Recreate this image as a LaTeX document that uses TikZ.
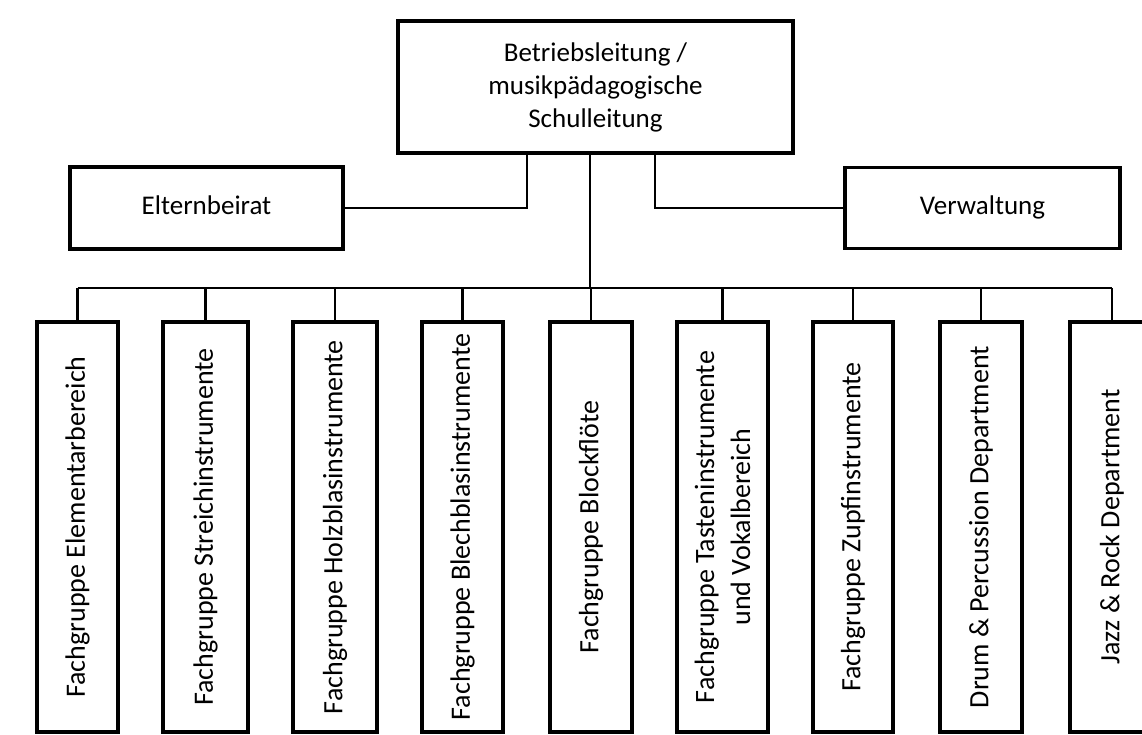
\documentclass[tikz,border=0pt]{standalone}
\usepackage{fontspec}
\setmainfont{Carlito}
\usetikzlibrary{positioning, calc}
\tikzset{
	orgbox/.style ={rectangle, draw=black, line width=3.6pt, align=center, inner sep=0pt},
	sidebox/.style={orgbox, text height=23pt, text depth=10pt},
	deptbox/.style={rectangle, draw=black, line width=3.6pt, rotate=90, minimum width=410pt, align=center, inner sep=0pt, font=\fontsize{28}{36}\selectfont},
	link/.style   ={draw=black, line width=2.2pt},
}

\begin{document}
\begin{tikzpicture}[x=1pt, y=-1pt, font=\fontsize{27}{33}\selectfont]
	\useasboundingbox (0,0) rectangle (1142,734);
	% top level
	\node[orgbox, minimum width=395pt, minimum height=132pt] (leitung) at (595.5,87) {Betriebsleitung /\\ musikpädagogische\\ Schulleitung};
	\node[sidebox, minimum width=273pt, minimum height=82pt] (eltern) at (206.5,208) {Elternbeirat};
	\node[sidebox, minimum width=275pt, minimum height=81pt] (verwaltung) at (982.5,208) {Verwaltung};
	\draw[link] ([xshift=-68.5pt]leitung.south) |- (eltern);
	\draw[link] ([xshift=59.5pt]leitung.south) |- (verwaltung);
	% departments
	\foreach \x/\w/\name/\txt in {77.5/81/d1/{Fachgruppe Elementarbereich}, 205.5/85/d2/{Fachgruppe Streichinstrumente}, 335/84/d3/{Fachgruppe Holzblasinstrumente}, 462.5/81/d4/{Fachgruppe Blechblasinstrumente}, 591/82/d5/{Fachgruppe Blockflöte}, 722.5/91/d6/{Fachgruppe Tasteninstrumente\\ und Vokalbereich}, 853/80/d7/{Fachgruppe Zupfinstrumente}, 981/82/d8/{Drum \& Percussion Department}, 1112/84/d9/{Jazz \& Rock Department}}
		\node[deptbox, minimum height=\w pt] (\name) at (\x,527) {\txt};
	\coordinate (bus) at (0,288);
	\draw[link] (d1.east |- bus) -- (d9.east |- bus);
	\draw[link] ([xshift=-5.5pt]leitung.south) -- ([xshift=-5.5pt]leitung.south |- bus);
	\foreach \i in {1,...,9}
		\draw[link] (d\i.east |- bus) -- (d\i.east);
\end{tikzpicture}
\end{document}
